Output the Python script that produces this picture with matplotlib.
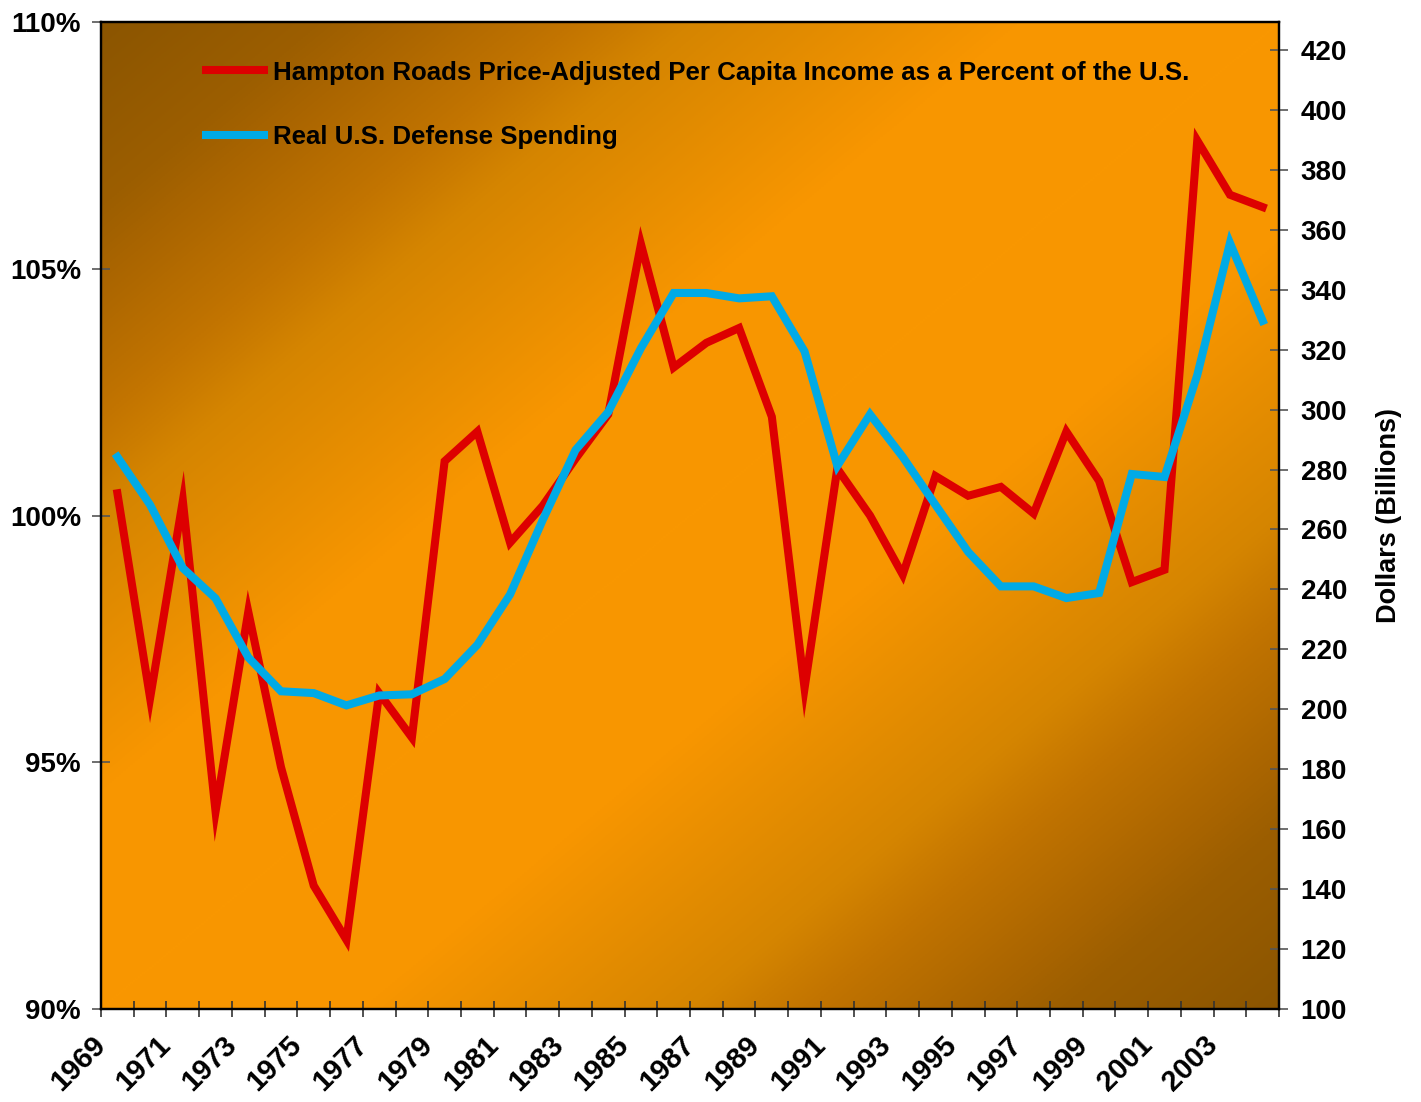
import numpy as np
import matplotlib
matplotlib.use("Agg")
import matplotlib.pyplot as plt
from matplotlib.colors import LinearSegmentedColormap

plt.rcParams['font.family'] = ['Liberation Sans', 'DejaVu Sans']
plt.rcParams['font.weight'] = 'bold'

# Data
years = list(range(1969, 2005))
income_pct = [100.45, 96.3, 100.3, 94.0, 98.05, 94.9, 92.5, 91.4, 96.4, 95.5,
              101.1, 101.7, 99.45, 100.2, 101.15, 102.05, 105.5, 103.0, 103.5, 103.8,
              102.0, 96.5, 100.95, 100.0, 98.8, 100.8, 100.4, 100.58, 100.04, 101.7,
              100.7, 98.65, 98.9, 107.6, 106.5, 106.25]
defense = [284.2, 268.2, 247.1, 237.0, 217.3, 206.0, 205.4, 201.3, 204.6, 205.0,
           210.1, 221.5, 238.3, 263.2, 286.5, 299.2, 320.5, 338.9, 338.9, 337.1,
           337.8, 319.4, 281.2, 298.4, 284.2, 268.2, 252.5, 241.0, 241.0, 237.1,
           238.8, 278.5, 277.5, 311.5, 355.6, 329.6]
year_labels = [str(y) if (y - 1969) % 2 == 0 else '' for y in years] + ['']

red_label = 'Hampton Roads Price-Adjusted Per Capita Income as a Percent of the U.S.'
blue_label = 'Real U.S. Defense Spending'

fig = plt.figure(figsize=(14.21, 11.02), dpi=100)
ax1 = fig.add_axes([0.0711, 0.0844, 0.8290, 0.8956])
ax2 = ax1.twinx()

# diagonal background gradient: dark corners top-left / bottom-right
u = np.linspace(0, 1, 500)
v = np.linspace(1, 0, 500)
U, V = np.meshgrid(u, v)
t = np.abs(U - V)
cmap = LinearSegmentedColormap.from_list('bg', [
    (0.0, '#F99700'), (0.22, '#F89600'), (0.5, '#D58500'), (0.6, '#C27400'),
    (0.74, '#AA6500'), (0.815, '#9C5E00'), (1.0, '#8B5500')])
ax1.imshow(t, cmap=cmap, extent=(0, 1, 0, 1), transform=ax1.transAxes,
           aspect='auto', zorder=0, vmin=0, vmax=1, interpolation='bilinear')

x = np.arange(len(years)) + 0.5
ax1.plot(x, income_pct, color='#DD0000', lw=5.8, solid_joinstyle='miter', zorder=3)
ax2.plot(x, defense, color='#00AAE6', lw=5.8, solid_joinstyle='miter', zorder=3)

ax1.set_xlim(0, len(years))
ax1.set_ylim(90, 110)
ax2.set_ylim(100, 429.3)

ax1.set_xticks(np.arange(len(years) + 1))
ax1.set_xticklabels(year_labels, rotation=45, ha='right', va='center',
                    rotation_mode='anchor', fontsize=21)
ax1.set_yticks([90, 95, 100, 105, 110])
ax1.set_yticklabels(['90%', '95%', '100%', '105%', '110%'], fontsize=20)
ax2.set_yticks(np.arange(100, 421, 20))
ax2.tick_params(axis='y', labelsize=20)

ax1.tick_params(axis='x', direction='inout', length=12, width=1.2, color='#333333', pad=17)
ax1.tick_params(axis='y', direction='inout', length=13, width=1.2, color='#555555', pad=8)
ax2.tick_params(axis='y', direction='inout', length=13, width=1.2, color='#555555', pad=9)

for ax in (ax1, ax2):
    for s in ax.spines.values():
        s.set_linewidth(1.6)
        s.set_color('black')

ax2.set_ylabel('Dollars (Billions)', fontsize=19.5, fontweight='bold', labelpad=21)

h1 = plt.Line2D([], [], color='#DD0000', lw=5.8, solid_capstyle='butt')
h2 = plt.Line2D([], [], color='#00AAE6', lw=5.8, solid_capstyle='butt')
leg = ax2.legend([h1, h2], [red_label, blue_label], loc='upper left',
                 bbox_to_anchor=(0.0857, 0.961), frameon=False, fontsize=18.6,
                 handlelength=2.55, handletextpad=0.2, labelspacing=1.55,
                 borderpad=0, borderaxespad=0)
for txt in leg.get_texts():
    txt.set_fontweight('bold')

fig.savefig('out.png', dpi=100)
